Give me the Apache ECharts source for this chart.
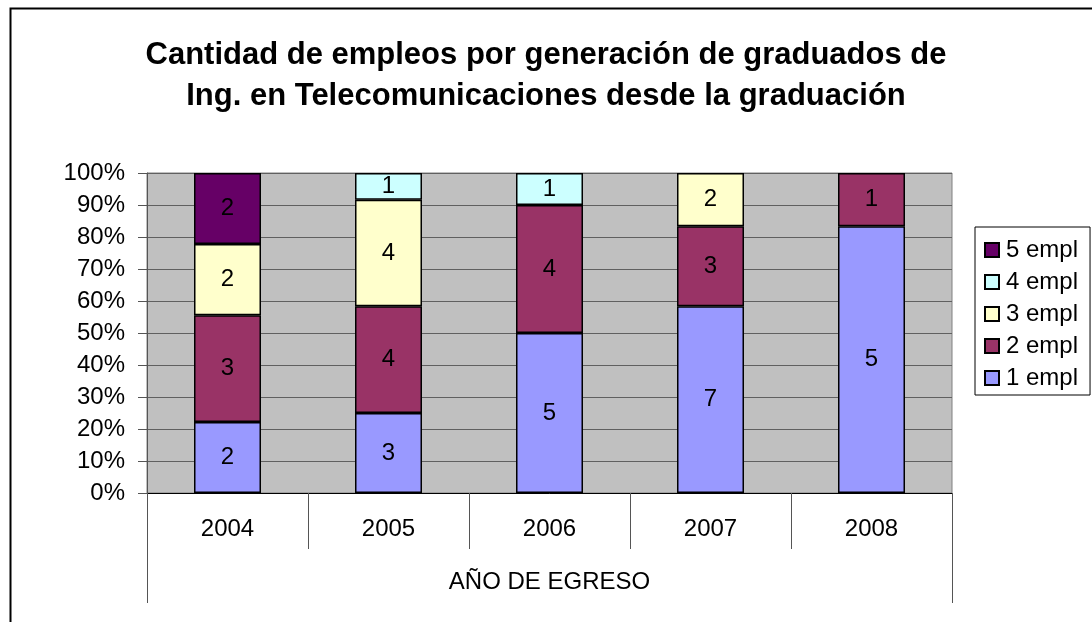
<!DOCTYPE html>
<html>
<head>
<meta charset="utf-8">
<script src="https://cdn.jsdelivr.net/npm/echarts@6/dist/echarts.min.js"></script>
<style>
  html, body { margin: 0; padding: 0; background: #fff; }
  #chart { width: 1092px; height: 622px; }
</style>
</head>
<body>
<div id="chart"></div>
<script>
  // cantidad de graduados por año y por número de empleos
  const years = ['2004', '2005', '2006', '2007', '2008']
  const empl1 = [2, 3, 5, 7, 5]
  const empl2 = [3, 4, 4, 3, 1]
  const empl3 = [2, 4, 0, 2, 0]
  const empl4 = [0, 1, 1, 0, 0]
  const empl5 = [2, 0, 0, 0, 0]
  const yTicks = [0, 10, 20, 30, 40, 50, 60, 70, 80, 90, 100]

  const groups = [
    {name: '1 empl', counts: empl1, color: '#9999FF'},
    {name: '2 empl', counts: empl2, color: '#993366'},
    {name: '3 empl', counts: empl3, color: '#FFFFCC'},
    {name: '4 empl', counts: empl4, color: '#CCFFFF'},
    {name: '5 empl', counts: empl5, color: '#660066'}
  ]
  const totals = years.map((y, i) => groups.reduce((s, g) => s + g.counts[i], 0))

  const font = "'Liberation Sans', Arial, sans-serif"
  const chart = echarts.init(document.getElementById('chart'))

  chart.setOption({
    animation: false,
    textStyle: {fontFamily: font},
    title: {
      text: 'Cantidad de empleos por generación de graduados de\nIng. en Telecomunicaciones desde la graduación',
      left: 'center',
      top: 30,
      textStyle: {fontSize: 31, fontWeight: 'bold', color: '#000', lineHeight: 41, fontFamily: font}
    },
    graphic: [{
      type: 'rect',
      left: 8, top: 6,
      shape: {width: 1120, height: 700},
      style: {fill: 'none', stroke: '#000', lineWidth: 2},
      silent: true
    }],
    legend: {
      orient: 'vertical',
      left: 975,
      top: 227,
      padding: [11, 12, 5, 9],
      itemGap: 8,
      itemWidth: 14,
      itemHeight: 14,
      borderColor: '#000',
      borderWidth: 1,
      icon: 'rect',
      data: ['5 empl', '4 empl', '3 empl', '2 empl', '1 empl'],
      textStyle: {fontSize: 24, color: '#000', lineHeight: 24, fontFamily: font, padding: [0, 0, 0, 2]}
    },
    grid: {
      left: 147, right: 140, top: 173, bottom: 129,
      show: true,
      backgroundColor: '#C0C0C0',
      borderColor: '#808080',
      borderWidth: 1
    },
    xAxis: [{
      type: 'category',
      data: years,
      axisLine: {show: true, lineStyle: {color: '#000', width: 1}},
      axisTick: {show: true, alignWithLabel: false, length: 56, lineStyle: {color: '#555', width: 1}},
      axisLabel: {fontSize: 24, color: '#000', margin: 24, fontFamily: font}
    }, {
      type: 'category',
      position: 'bottom',
      data: ['AÑO DE EGRESO'],
      axisLine: {show: false},
      axisTick: {show: true, alignWithLabel: false, length: 110, lineStyle: {color: '#555', width: 1}},
      axisLabel: {fontSize: 24, color: '#000', margin: 77, fontFamily: font}
    }],
    yAxis: {
      type: 'value',
      min: yTicks[0],
      max: yTicks[yTicks.length - 1],
      interval: 10,
      axisLine: {show: true, lineStyle: {color: '#555'}},
      axisTick: {show: true, length: 9, lineStyle: {color: '#555'}},
      axisLabel: {fontSize: 24, color: '#000', margin: 22, formatter: '{value}%', fontFamily: font},
      splitLine: {show: true, lineStyle: {color: '#606060', width: 1}}
    },
    series: groups.map(g => ({
      name: g.name,
      type: 'bar',
      stack: 'total',
      barWidth: 67,
      xAxisIndex: 0,
      data: g.counts.map((c, i) => c ? c / totals[i] * 100 : null),
      itemStyle: {color: g.color, borderColor: '#000', borderWidth: 1.5},
      label: {
        show: true,
        position: 'inside',
        fontSize: 24,
        color: '#000',
        fontFamily: font,
        formatter: p => g.counts[p.dataIndex]
      }
    }))
  })
</script>
</body>
</html>
